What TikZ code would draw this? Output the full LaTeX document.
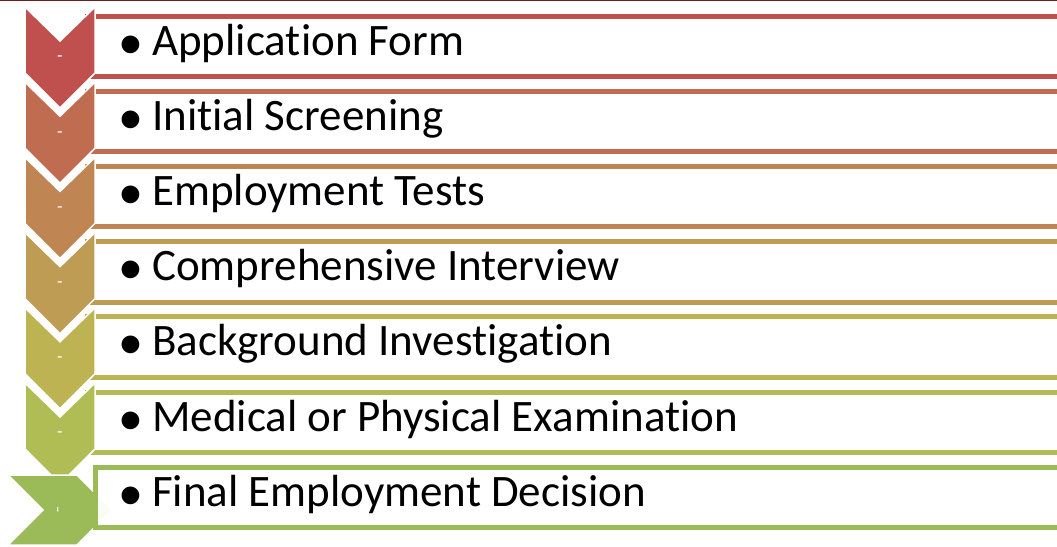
\documentclass[tikz,border=0pt]{standalone}
\usepackage{fontspec}
\setmainfont{Carlito}[Ligatures=NoCommon]
\newfontfamily\bulletfont{Liberation Sans}
\usepackage{tikz}
\usetikzlibrary{positioning}

\definecolor{stepA}{RGB}{192,80,77}
\definecolor{stepB}{RGB}{192,108,81}
\definecolor{stepC}{RGB}{191,133,82}
\definecolor{stepD}{RGB}{191,156,83}
\definecolor{stepE}{RGB}{190,179,83}
\definecolor{stepF}{RGB}{176,188,84}
\definecolor{stepG}{RGB}{155,187,89}
\definecolor{topline}{RGB}{110,30,30}

\newcommand{\blt}{\makebox[33pt][l]{\hspace{0.5pt}\raisebox{-11pt}{\scalebox{1.45}{\bulletfont •}}}}

\begin{document}
\begin{tikzpicture}[
            x=1pt, y=-1pt,
            rowbox/.style={draw=#1,fill=white,line width=5pt,rectangle,anchor=north west,
                minimum width=985pt,minimum height=60.5pt,inner sep=0pt},
            item/.style={anchor=base west,inner sep=0pt,font=\fontsize{45}{52}\selectfont},
            chev/.style={fill=#1,draw=white,line width=1.5pt,line join=miter},
            tick/.style={text=white,inner sep=0pt,font=\fontsize{18}{20}\selectfont}
        ]
            \useasboundingbox (0,0) rectangle (1057,546);
            \clip (0,0) rectangle (1057,546);

            \draw[topline,line width=1.5pt] (0,0.5) -- (1057,0.5);

            % boxes behind the chevrons
            \node[rowbox=stepA] (box1) at (85,13.5)  {};
            \node[rowbox=stepB] (box2) at (85,88.7)  {};
            \node[rowbox=stepC] (box3) at (85,163.9) {};
            \node[rowbox=stepD] (box4) at (85,239.1) {};
            \node[rowbox=stepE] (box5) at (85,314.3) {};
            \node[rowbox=stepF] (box6) at (85,389.5) {};

            % chevrons
            \filldraw[chev=stepA] (25,7) -- (60,41) -- (95,7) -- (95,73) -- (60,108) -- (25,73) -- cycle;
            \filldraw[chev=stepB] (25,82.2) -- (60,116.2) -- (95,82.2) -- (95,148.2) -- (60,183.2) -- (25,148.2) -- cycle;
            \filldraw[chev=stepC] (25,157.4) -- (60,191.4) -- (95,157.4) -- (95,223.4) -- (60,258.4) -- (25,223.4) -- cycle;
            \filldraw[chev=stepD] (25,232.6) -- (60,266.6) -- (95,232.6) -- (95,298.6) -- (60,333.6) -- (25,298.6) -- cycle;
            \filldraw[chev=stepE] (25,307.8) -- (60,341.8) -- (95,307.8) -- (95,373.8) -- (60,408.8) -- (25,373.8) -- cycle;
            \filldraw[chev=stepF] (25,383) -- (60,417) -- (95,383) -- (95,449) -- (60,484) -- (25,449) -- cycle;
            \filldraw[chev=stepG] (8,475) -- (77,475) -- (112,510) -- (77,545) -- (8,545) -- (43,510) -- cycle;

            \node[tick] (t1) at (60,59)    {-};
            \node[tick] (t2) at (60,134.2) {-};
            \node[tick] (t3) at (60,209.4) {-};
            \node[tick] (t4) at (60,284.6) {-};
            \node[tick] (t5) at (60,359.8) {-};
            \node[tick] (t6) at (60,435)   {-};
            \node[tick,rotate=90] (t7) at (60,510) {-};

            % last box sits over the arrow tip
            \node[rowbox=stepG,fill opacity=0.94,minimum width=980pt,minimum height=60pt] (box7) at (92.5,464.5) {};

            \node[item] (s1) at (119,55)    {\blt Application Form};
            \node[item] (s2) at (119,130.2) {\blt Initial Screening};
            \node[item] (s3) at (119,205.4) {\blt Employment Tests};
            \node[item] (s4) at (119,280.6) {\blt Comprehensive Interview};
            \node[item] (s5) at (119,355.8) {\blt Background Investigation};
            \node[item] (s6) at (119,431)   {\blt Medical or Physical Examination};
            \node[item] (s7) at (119,506.2) {\blt Final Employment Decision};
        \end{tikzpicture}
\end{document}
